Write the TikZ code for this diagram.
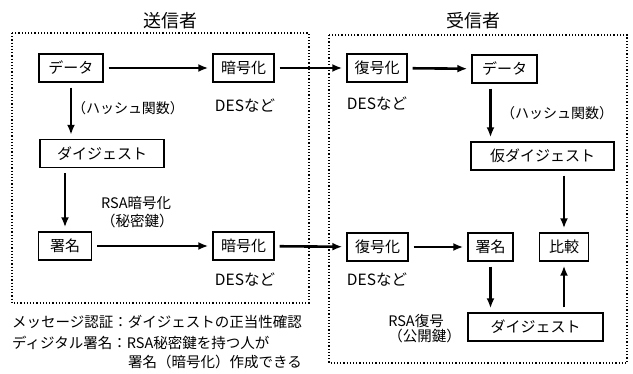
\documentclass[tikz,border=0pt]{standalone}
\usepackage{fontspec}
\setmainfont{Noto Sans CJK JP}
\usetikzlibrary{arrows.meta,calc}
\begin{document}
\begin{tikzpicture}[x=1pt,y=-1pt,
  box/.style={draw, line width=1.4pt, minimum height=28pt, inner sep=0pt, font=\fontsize{15}{15}\selectfont},
  arr/.style={line width=2.6pt, -{Latex[length=10pt,width=8pt]}, shorten <=5pt, shorten >=4pt},
  frame/.style={line width=1.2pt, dash pattern=on 1.2pt off 2pt},
  lbl/.style={inner sep=0pt, font=\fontsize{14}{14}\selectfont},
  des/.style={inner sep=0pt, font=\fontsize{15.5}{15.5}\selectfont},
  title/.style={inner sep=0pt, font=\fontsize{18}{18}\selectfont},
  note/.style={inner sep=0pt, anchor=west, font=\fontsize{14.5}{14.5}\selectfont}]
\useasboundingbox (0,0) rectangle (633,374);
\fill[white] (0,0) rectangle (633,374);
% frames
\draw[frame] (12,33) rectangle (309,303);
\draw[frame] (329,35) rectangle (627,363);
\node[title] (tsend) at (170,21) {送信者};
\node[title] (trecv) at (473,21) {受信者};
% sender nodes
\node[box, minimum width=64pt] (sdata) at (71,68) {データ};
\node[box, minimum width=61pt] (senc1) at (243.5,68) {暗号化};
\node[box, minimum width=124pt] (sdig) at (102,153.5) {ダイジェスト};
\node[box, minimum width=53pt] (ssig) at (65,246) {署名};
\node[box, minimum width=61pt] (senc2) at (243.5,246) {暗号化};
% receiver nodes
\node[box, minimum width=60pt] (rdec1) at (377,68) {復号化};
\node[box, minimum width=65pt] (rdata) at (504.5,69) {データ};
\node[box, minimum width=143pt] (rkari) at (542.5,156) {仮ダイジェスト};
\node[box, minimum width=61pt] (rdec2) at (377.5,247) {復号化};
\node[box, minimum width=45pt] (rsig) at (490.5,247) {署名};
\node[box, minimum width=49pt] (rcmp) at (564,247) {比較};
\node[box, minimum width=135pt] (rdig) at (535.5,327) {ダイジェスト};
% labels
\node[des] (ldes1) at (245,106) {DESなど};
\node[des] (ldes2) at (377,104) {DESなど};
\node[des] (ldes3) at (245,280) {DESなど};
\node[des] (ldes4) at (377,280) {DESなど};
\node[lbl] (lhash1) at (128,108) {（ハッシュ関数）};
\node[lbl] (lhash2) at (557,113) {（ハッシュ関数）};
\node[lbl, anchor=west, align=left, font=\fontsize{14.5}{19}\selectfont] (lrsa1) at (101,212) {RSA暗号化\\[-1pt]（秘密鍵）};
\node[lbl, anchor=east, align=left, font=\fontsize{14.5}{14.5}\selectfont] (lrsa2) at (461,328.5) {RSA復号\\（公開鍵）};
% arrows sender
\draw[arr] (sdata.south) -- (sdata.south |- sdig.north);
\draw[arr] (sdata) -- (senc1);
\draw[arr] (ssig.north |- sdig.south) -- (ssig.north);
\draw[arr] (ssig) -- (senc2);
% cross arrows
\draw[arr] (senc1) -- (rdec1);
\draw[arr] (senc2) -- (rdec2);
% arrows receiver
\draw[arr] (rdec1) -- (rdata);
\draw[arr] (rsig.center |- rdata.south) -- (rsig.center |- rkari.north);
\draw[arr] (rcmp.north |- rkari.south) -- (rcmp.north);
\draw[arr] (rdec2) -- (rsig);
\draw[arr] (rsig.south) -- (rsig.south |- rdig.north);
\draw[arr] (rcmp.south |- rdig.north) -- (rcmp.south);
% notes
\node[note] (n1) at (12,322) {メッセージ認証：ダイジェストの正当性確認};
\node[note] (n2) at (12,343) {ディジタル署名：RSA秘密鍵を持つ人が};
\node[note] (n3) at (128,362) {署名（暗号化）作成できる};
\end{tikzpicture}
\end{document}
